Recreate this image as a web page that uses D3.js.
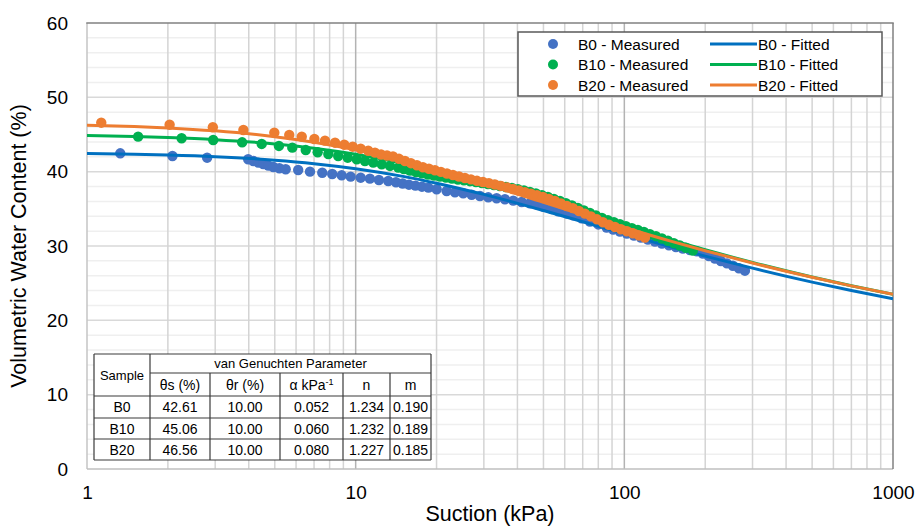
<!DOCTYPE html>
<html>
<head>
<meta charset="utf-8">
<script src="https://cdn.jsdelivr.net/npm/d3@7"></script>
<style>
  body { margin: 0; background: #fff; }
  svg { display: block; font-family: "Liberation Sans", Arial, sans-serif; }
</style>
</head>
<body>
<div id="chart"></div>
<script>
// ---- data ----
var xTicks = [1, 10, 100, 1000];
var yTicks = [0, 10, 20, 30, 40, 50, 60];

// measured points (suction kPa, volumetric water content %)
var b0Suction = [1.33,2.08,2.80,3.98,4.16,4.34,4.53,4.73,4.94,5.20,5.49,6.11,6.76,7.51,8.18,8.87,9.58,10.44,11.30,12.21,13.22,14.13,14.96,15.79,16.69,17.65,18.66,20.02,21.81,23.42,25.14,27.02,29.01,31.15,33.47,35.94,38.59,41.48,44.54,47.17,49.91,53.63,56.75,61.00,64.54,69.36,74.47,79.97,85.93,90.92,96.30,102.2,108.6,115.3,122.4,130.0,138.0,146.6,155.6,165.2,175.5,186.3,196.1,206.4,217.4,228.8,240.9,253.6,267.0,281.1];
var b0Theta = [42.47,42.11,41.88,41.67,41.44,41.21,41.03,40.81,40.63,40.46,40.32,40.23,40.00,39.86,39.69,39.51,39.33,39.19,39.06,38.88,38.75,38.57,38.41,38.25,38.12,37.98,37.85,37.63,37.40,37.23,37.09,36.90,36.73,36.55,36.42,36.29,36.10,35.92,35.75,35.59,35.32,34.98,34.67,34.38,34.13,33.73,33.30,32.90,32.49,32.22,31.95,31.68,31.41,31.15,30.88,30.61,30.34,30.10,29.87,29.67,29.46,29.29,28.97,28.64,28.32,27.98,27.66,27.34,27.00,26.68];

var b10Suction = [1.55,2.25,2.95,3.78,4.47,5.18,5.81,6.52,7.22,7.91,8.61,9.34,10.09,10.83,11.63,12.50,13.42,14.41,15.12,15.93,16.77,17.65,18.58,19.56,20.59,21.68,22.82,24.03,25.29,26.63,28.03,29.51,31.07,32.71,34.43,36.25,38.16,40.18,42.30,44.54,46.88,49.36,51.96,54.70,57.59,60.63,63.83,67.20,70.74,74.47,78.40,82.53,86.90,91.48,96.30,101.4,106.7,112.3,118.3,124.5,131.1,138.0,145.3,152.9,161.0,169.5,180.0];
var b10Theta = [44.71,44.49,44.26,43.95,43.73,43.46,43.23,42.92,42.61,42.38,42.11,41.88,41.67,41.44,41.21,40.99,40.77,40.54,40.36,40.16,39.96,39.78,39.62,39.49,39.35,39.22,39.08,38.95,38.84,38.72,38.61,38.48,38.34,38.21,38.07,37.94,37.81,37.64,37.47,37.27,37.07,36.84,36.59,36.33,36.06,35.75,35.45,35.11,34.78,34.44,34.11,33.77,33.46,33.19,32.92,32.65,32.40,32.16,31.89,31.58,31.32,31.01,30.70,30.38,30.06,29.76,29.40];

var b20Suction = [1.13,2.03,2.94,3.82,4.98,5.66,6.30,7.02,7.69,8.38,9.07,9.75,10.44,11.14,11.80,12.43,13.08,13.77,14.50,15.26,16.06,16.91,17.80,18.74,19.73,20.77,21.87,23.02,24.24,25.51,26.86,28.28,29.77,31.34,32.99,34.73,36.56,38.49,40.52,42.66,44.91,47.28,49.78,52.41,55.17,58.08,61.15,64.37,67.77,71.35,75.11,79.07,83.25,87.63,92.26,97.14,102.3,107.6,113.3,119.3];
var b20Theta = [46.59,46.32,45.97,45.61,45.25,44.94,44.71,44.40,44.17,43.90,43.63,43.36,43.09,42.82,42.56,42.31,42.18,42.04,41.73,41.44,41.14,40.87,40.60,40.39,40.19,39.97,39.76,39.55,39.35,39.15,38.96,38.77,38.61,38.45,38.28,38.09,37.89,37.67,37.47,37.25,37.04,36.84,36.59,36.33,36.06,35.72,35.38,35.09,34.71,34.35,33.98,33.59,33.20,32.85,32.56,32.26,31.98,31.71,31.42,31.12];

// fitted curves (values at these suctions)
var fitSuction = [1,1.5,2,3,5,7,10,15,20,30,50,70,100,150,200,300,500,700,1000];
var fitB0  = [42.45,42.35,42.24,42.02,41.55,41.08,40.40,39.37,38.45,36.94,34.77,33.26,31.64,29.86,28.64,27.02,25.14,24.01,22.89];
var fitB10 = [44.86,44.73,44.59,44.31,43.73,43.16,42.34,41.12,40.07,38.37,35.99,34.36,32.65,30.77,29.49,27.79,25.84,24.66,23.50];
var fitB20 = [46.26,46.08,45.89,45.49,44.71,43.96,42.93,41.47,40.26,38.39,35.87,34.21,32.49,30.62,29.37,27.71,25.79,24.64,23.51];

// van Genuchten table
var tableSamples = ["B0", "B10", "B20"];
var tableThetaS  = ["42.61", "45.06", "46.56"];
var tableThetaR  = ["10.00", "10.00", "10.00"];
var tableAlpha   = ["0.052", "0.060", "0.080"];
var tableN       = ["1.234", "1.232", "1.227"];
var tableM       = ["0.190", "0.189", "0.185"];

var seriesNames = ["B0", "B10", "B20"];
var dotColors  = ["#4472c4", "#00b050", "#ed7d31"];
var lineColors = ["#0070c0", "#00b050", "#ed7d31"];

// ---- chart ----
var W = 918, H = 528;
var plot = {left: 87, top: 23, right: 893, bottom: 469};

var svg = d3.select("#chart").append("svg")
  .attr("width", W).attr("height", H);

var x = d3.scaleLog().domain([1, 1000]).range([plot.left, plot.right]);
var y = d3.scaleLinear().domain([0, 60]).range([plot.bottom, plot.top]);

// gridlines
var minorX = [];
[1, 10, 100].forEach(function(d){ for (var k = 2; k <= 9; k++) minorX.push(d * k); });
var minorY = d3.range(2, 60, 2).filter(function(v){ return v % 10 !== 0; });
var majorY = [10, 20, 30, 40, 50];

var grid = svg.append("g");
grid.selectAll(".hminor").data(minorY).enter().append("line")
  .attr("x1", plot.left).attr("x2", plot.right)
  .attr("y1", function(d){ return y(d); }).attr("y2", function(d){ return y(d); })
  .attr("stroke", "#efefef").attr("stroke-width", 1.5);
grid.selectAll(".hmajor").data(majorY).enter().append("line")
  .attr("x1", plot.left).attr("x2", plot.right)
  .attr("y1", function(d){ return y(d); }).attr("y2", function(d){ return y(d); })
  .attr("stroke", "#d9d9d9").attr("stroke-width", 1.5);
grid.selectAll(".vminor").data(minorX).enter().append("line")
  .attr("y1", plot.top).attr("y2", plot.bottom)
  .attr("x1", function(d){ return x(d); }).attr("x2", function(d){ return x(d); })
  .attr("stroke", "#d4d4d4").attr("stroke-width", 1.5);
grid.selectAll(".vmajor").data([10, 100]).enter().append("line")
  .attr("y1", plot.top).attr("y2", plot.bottom)
  .attr("x1", function(d){ return x(d); }).attr("x2", function(d){ return x(d); })
  .attr("stroke", "#b3b3b3").attr("stroke-width", 1.5);

// plot border
svg.append("line").attr("x1", plot.left).attr("x2", plot.left).attr("y1", plot.top).attr("y2", plot.bottom)
  .attr("stroke", "#c4c4c4").attr("stroke-width", 1.5);
svg.append("line").attr("x1", plot.left).attr("x2", plot.right).attr("y1", plot.bottom).attr("y2", plot.bottom)
  .attr("stroke", "#bfbfbf").attr("stroke-width", 1.5);
svg.append("line").attr("x1", plot.left - 0.75).attr("x2", plot.right + 0.75).attr("y1", plot.top).attr("y2", plot.top)
  .attr("stroke", "#808080").attr("stroke-width", 1.5);
svg.append("line").attr("x1", plot.right).attr("x2", plot.right).attr("y1", plot.top).attr("y2", plot.bottom)
  .attr("stroke", "#808080").attr("stroke-width", 1.5);

// axes (labels only)
var yAxis = svg.append("g")
  .attr("transform", "translate(" + plot.left + ",0)")
  .call(d3.axisLeft(y).tickValues(yTicks).tickSize(0).tickPadding(19));
var xAxis = svg.append("g")
  .attr("transform", "translate(0," + plot.bottom + ")")
  .call(d3.axisBottom(x).tickValues(xTicks).tickFormat(d3.format("d")).tickSize(0).tickPadding(17));
[yAxis, xAxis].forEach(function(a){
  a.select(".domain").remove();
  a.selectAll("text").attr("font-size", 19).attr("fill", "#000")
    .attr("font-family", "Liberation Sans, Arial, sans-serif");
});

svg.append("text")
  .attr("transform", "translate(26," + ((plot.top + plot.bottom) / 2) + ") rotate(-90)")
  .attr("text-anchor", "middle").attr("font-size", 21.5).attr("fill", "#000")
  .text("Volumetric Water Content (%)");
svg.append("text")
  .attr("x", (plot.left + plot.right) / 2).attr("y", 521)
  .attr("text-anchor", "middle").attr("font-size", 21.5).attr("fill", "#000")
  .text("Suction (kPa)");

// series
var clip = svg.append("clipPath").attr("id", "clip").append("rect")
  .attr("x", plot.left).attr("y", plot.top)
  .attr("width", plot.right - plot.left).attr("height", plot.bottom - plot.top);

var measured = [
  d3.zip(b0Suction, b0Theta),
  d3.zip(b10Suction, b10Theta),
  d3.zip(b20Suction, b20Theta)
];
var fitted = [
  d3.zip(fitSuction, fitB0),
  d3.zip(fitSuction, fitB10),
  d3.zip(fitSuction, fitB20)
];

var line = d3.line()
  .x(function(d){ return x(d[0]); })
  .y(function(d){ return y(d[1]); })
  .curve(d3.curveMonotoneX);

var marks = svg.append("g").attr("clip-path", "url(#clip)");
for (var i = 0; i < 3; i++) {
  marks.append("g").selectAll("circle")
    .data(measured[i]).enter().append("circle")
    .attr("cx", function(d){ return x(d[0]); })
    .attr("cy", function(d){ return y(d[1]); })
    .attr("r", 5.2)
    .attr("fill", dotColors[i]);
  marks.append("path")
    .datum(fitted[i])
    .attr("d", line)
    .attr("fill", "none")
    .attr("stroke", lineColors[i])
    .attr("stroke-width", 3);
}

// legend
var lg = svg.append("g");
lg.append("rect").attr("x", 518).attr("y", 32).attr("width", 364).attr("height", 64)
  .attr("fill", "#fff").attr("stroke", "#595959").attr("stroke-width", 1.5);
seriesNames.forEach(function(name, i){
  var ry = 44 + i * 20.5;
  lg.append("circle").attr("cx", 553).attr("cy", ry).attr("r", 5).attr("fill", dotColors[i]);
  lg.append("text").attr("x", 578).attr("y", ry).attr("dy", "0.36em")
    .attr("font-size", 15.5).attr("fill", "#000").text(name + " - Measured");
  lg.append("line").attr("x1", 710).attr("x2", 757).attr("y1", ry).attr("y2", ry)
    .attr("stroke", lineColors[i]).attr("stroke-width", 3);
  lg.append("text").attr("x", 758).attr("y", ry).attr("dy", "0.36em")
    .attr("font-size", 15.5).attr("fill", "#000").text(name + " - Fitted");
});

// parameter table
var tcols = [94, 150, 210, 280, 343, 390, 431];
var trows = [354, 373, 396, 418, 439, 460];
var tb = svg.append("g");
tb.append("rect").attr("x", tcols[0]).attr("y", trows[0])
  .attr("width", tcols[6] - tcols[0]).attr("height", trows[5] - trows[0])
  .attr("fill", "#fff");
var tStroke = "#3a3a3a";
function tline(x1, y1, x2, y2) {
  tb.append("line").attr("x1", x1).attr("y1", y1).attr("x2", x2).attr("y2", y2)
    .attr("stroke", tStroke).attr("stroke-width", 1.2);
}
tline(tcols[0], trows[0], tcols[6], trows[0]);
tline(tcols[1], trows[1], tcols[6], trows[1]);
for (var r = 2; r <= 5; r++) tline(tcols[0], trows[r], tcols[6], trows[r]);
tline(tcols[0], trows[0], tcols[0], trows[5]);
tline(tcols[1], trows[0], tcols[1], trows[5]);
for (var c = 2; c <= 5; c++) tline(tcols[c], trows[1], tcols[c], trows[5]);
tline(tcols[6], trows[0], tcols[6], trows[5]);

function cell(cx, cy, txt, size) {
  return tb.append("text").attr("x", cx).attr("y", cy).attr("dy", "0.36em")
    .attr("text-anchor", "middle").attr("font-size", size).attr("fill", "#000").text(txt);
}
cell((tcols[0] + tcols[1]) / 2, (trows[0] + trows[2]) / 2, "Sample", 13);
cell((tcols[1] + tcols[6]) / 2, (trows[0] + trows[1]) / 2, "van Genuchten Parameter", 13);
var hy = (trows[1] + trows[2]) / 2;
cell((tcols[1] + tcols[2]) / 2, hy, "\u03b8s (%)", 14);
cell((tcols[2] + tcols[3]) / 2, hy, "\u03b8r (%)", 14);
var at = cell((tcols[3] + tcols[4]) / 2, hy, "\u03b1 kPa", 14);
at.append("tspan").attr("dy", "-0.45em").attr("font-size", 9).text("-1");
cell((tcols[4] + tcols[5]) / 2, hy, "n", 14);
cell((tcols[5] + tcols[6]) / 2, hy, "m", 14);

var cols = [tableSamples, tableThetaS, tableThetaR, tableAlpha, tableN, tableM];
tableSamples.forEach(function(s, i){
  var cy = (trows[i + 2] + trows[i + 3]) / 2;
  cols.forEach(function(col, j){
    cell((tcols[j] + tcols[j + 1]) / 2, cy, col[i], 14);
  });
});
</script>
</body>
</html>
